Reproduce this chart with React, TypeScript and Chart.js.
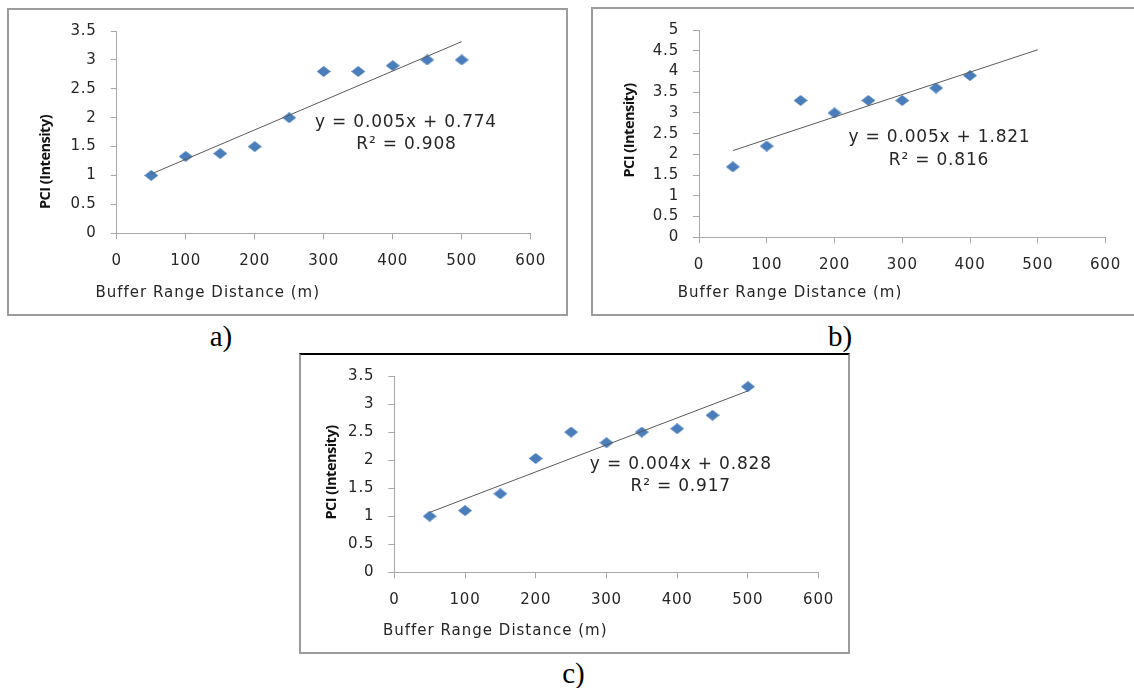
import React, { useEffect, useRef } from "react";
import { Chart, registerables } from "chart.js";

Chart.register(...registerables);

// ---- data ----
const distancesA = [50, 100, 150, 200, 250, 300, 350, 400, 450, 500];
const pciA = [1.0, 1.33, 1.38, 1.5, 2.0, 2.8, 2.8, 2.9, 3.0, 3.0];

const distancesB = [50, 100, 150, 200, 250, 300, 350, 400];
const pciB = [1.7, 2.2, 3.3, 3.0, 3.3, 3.3, 3.6, 3.9];

const distancesC = [50, 100, 150, 200, 250, 300, 350, 400, 450, 500];
const pciC = [1.0, 1.1, 1.4, 2.03, 2.5, 2.31, 2.5, 2.56, 2.8, 3.31];

const xTicks = [0, 100, 200, 300, 400, 500, 600];
const yTicksA = [0, 0.5, 1, 1.5, 2, 2.5, 3, 3.5];
const yTicksB = [0, 0.5, 1, 1.5, 2, 2.5, 3, 3.5, 4, 4.5, 5];
const yTicksC = [0, 0.5, 1, 1.5, 2, 2.5, 3, 3.5];

// trendline spans (x from, x to); panel b is forecast forward to 500
const trendRangeA = [50, 500];
const trendRangeB = [50, 500];
const trendRangeC = [50, 500];

const equationA = ["y = 0.005x + 0.774", "R\u00B2 = 0.908"];
const equationB = ["y = 0.005x + 1.821", "R\u00B2 = 0.816"];
const equationC = ["y = 0.004x + 0.828", "R\u00B2 = 0.917"];

const panelLabels = ["a)", "b)", "c)"];
const xTitle = "Buffer Range Distance (m)";
const yTitle = "PCI (Intensity)";

// ---- styling ----
const MARKER_COLOR = "#4A7EBB";
const TREND_COLOR = "#5a5a5a";
const AXIS_COLOR = "#a8a8a8";
const TEXT_COLOR = "#262626";
const SANS = "'DejaVu Sans', sans-serif";
const Y_SCALE_W = 60;
const X_SCALE_H = 40;

type Box = { left: number; top: number; width: number; height: number };
type Area = { left: number; top: number; right: number; bottom: number };
type PanelSpec = {
  box: Box;
  area: Area;
  xs: number[];
  ys: number[];
  yTicks: number[];
  trendRange: number[];
  equation: string[];
  eqPos: number[][];
  xTitlePos: number[];
  yTitlePos: number[];
  topRule?: boolean;
};

function leastSquares(xs: number[], ys: number[]) {
  const n = xs.length;
  const mx = xs.reduce((s, v) => s + v, 0) / n;
  const my = ys.reduce((s, v) => s + v, 0) / n;
  let sxy = 0;
  let sxx = 0;
  for (let i = 0; i < n; i++) {
    sxy += (xs[i] - mx) * (ys[i] - my);
    sxx += (xs[i] - mx) * (xs[i] - mx);
  }
  const slope = sxy / sxx;
  return { slope, intercept: my - slope * mx };
}

function makeDiamond(w: number, h: number, color: string) {
  const c = document.createElement("canvas");
  c.width = w;
  c.height = h;
  const g = c.getContext("2d")!;
  g.fillStyle = color;
  g.beginPath();
  g.moveTo(w / 2, 0);
  g.lineTo(w, h / 2);
  g.lineTo(w / 2, h);
  g.lineTo(0, h / 2);
  g.closePath();
  g.fill();
  return c;
}

const panels: PanelSpec[] = [
  {
    box: { left: 7, top: 8, width: 561, height: 308 },
    area: { left: 116.7, top: 26.7, right: 530.7, bottom: 233.3 },
    xs: distancesA,
    ys: pciA,
    yTicks: yTicksA,
    trendRange: trendRangeA,
    equation: equationA,
    eqPos: [
      [406, 122.7],
      [406.5, 144.3],
    ],
    xTitlePos: [95.5, 292.7],
    yTitlePos: [46, 162],
  },
  {
    box: { left: 591, top: 7, width: 546, height: 309 },
    area: { left: 699, top: 24, right: 1105.5, bottom: 237.3 },
    xs: distancesB,
    ys: pciB,
    yTicks: yTicksB,
    trendRange: trendRangeB,
    equation: equationB,
    eqPos: [
      [939.5, 138],
      [939, 160.7],
    ],
    xTitlePos: [677.8, 292.7],
    yTitlePos: [629.5, 130.5],
  },
  {
    box: { left: 299, top: 353, width: 551, height: 301 },
    area: { left: 394.3, top: 371.7, right: 818.6, bottom: 572.3 },
    xs: distancesC,
    ys: pciC,
    yTicks: yTicksC,
    trendRange: trendRangeC,
    equation: equationC,
    eqPos: [
      [680.8, 465],
      [680.7, 486.7],
    ],
    xTitlePos: [383, 631],
    yTitlePos: [332, 472.5],
    topRule: true,
  },
];

function Panel({ spec }: { spec: PanelSpec }) {
  const ref = useRef<HTMLCanvasElement | null>(null);

  useEffect(() => {
    if (!ref.current) return;
    const { box, area } = spec;
    const fit = leastSquares(spec.xs, spec.ys);
    const trend = spec.trendRange.map((x) => ({ x, y: fit.intercept + fit.slope * x }));
    const points = spec.xs.map((x, i) => ({ x, y: spec.ys[i] }));
    const marker = makeDiamond(14, 11, MARKER_COLOR);

    const padLeft = area.left - box.left - Y_SCALE_W;
    const padTop = area.top - box.top;
    const padRight = box.width - (area.right - box.left);
    const padBottom = box.height - (area.bottom - box.top) - X_SCALE_H;

    const textPlugin = {
      id: "panelText",
      beforeDraw(chart: any) {
        chart.ctx.letterSpacing = "0.8px";
      },
      afterDraw(chart: any) {
        const ctx = chart.ctx as CanvasRenderingContext2D;
        const ox = box.left;
        const oy = box.top;
        ctx.save();
        ctx.fillStyle = TEXT_COLOR;

        // x axis title
        (ctx as any).letterSpacing = "1px";
        ctx.font = `15px ${SANS}`;
        ctx.textAlign = "left";
        ctx.textBaseline = "middle";
        ctx.fillText(xTitle, spec.xTitlePos[0] - ox, spec.xTitlePos[1] - oy);

        // trendline equation
        (ctx as any).letterSpacing = "0.8px";
        ctx.font = `17px ${SANS}`;
        ctx.textAlign = "center";
        spec.equation.forEach((line, i) => {
          ctx.fillText(line, spec.eqPos[i][0] - ox, spec.eqPos[i][1] - oy);
        });

        // y axis title
        (ctx as any).letterSpacing = "-0.5px";
        ctx.font = `bold 14.5px 'Open Sans', sans-serif`;
        ctx.fillStyle = "#111";
        ctx.translate(spec.yTitlePos[0] - ox, spec.yTitlePos[1] - oy);
        ctx.rotate(-Math.PI / 2);
        ctx.textAlign = "center";
        ctx.textBaseline = "middle";
        ctx.fillText(yTitle, 0, 0);
        ctx.restore();
      },
    };

    const tickFont = { family: SANS, size: 15 };

    const chart = new Chart(ref.current, {
      type: "scatter",
      data: {
        datasets: [
          {
            label: "Linear (PCI)",
            data: trend,
            showLine: true,
            borderColor: TREND_COLOR,
            borderWidth: 1,
            pointRadius: 0,
            fill: false,
            order: 0,
          } as any,
          {
            label: "PCI",
            data: points,
            pointStyle: marker as any,
            pointRadius: 6,
            backgroundColor: MARKER_COLOR,
            borderColor: MARKER_COLOR,
            order: 1,
          },
        ],
      },
      options: {
        responsive: false,
        animation: false,
        devicePixelRatio: 1,
        layout: {
          padding: { left: padLeft, top: padTop, right: padRight, bottom: padBottom },
        },
        plugins: {
          legend: { display: false },
          tooltip: { enabled: false },
          title: { display: false },
        },
        scales: {
          x: {
            type: "linear",
            min: xTicks[0],
            max: xTicks[xTicks.length - 1],
            afterBuildTicks: (s: any) => {
              s.ticks = xTicks.map((v) => ({ value: v }));
            },
            afterFit: (s: any) => {
              s.height = X_SCALE_H;
            },
            grid: {
              display: true,
              drawOnChartArea: false,
              drawTicks: true,
              tickLength: 6,
              color: AXIS_COLOR,
            },
            border: { display: true, color: AXIS_COLOR, width: 1 },
            ticks: {
              color: TEXT_COLOR,
              font: tickFont,
              padding: 12.5,
              maxRotation: 0,
              autoSkip: false,
              callback: (v: any) => String(v),
            },
          },
          y: {
            type: "linear",
            min: spec.yTicks[0],
            max: spec.yTicks[spec.yTicks.length - 1],
            afterBuildTicks: (s: any) => {
              s.ticks = spec.yTicks.map((v) => ({ value: v }));
            },
            afterFit: (s: any) => {
              s.width = Y_SCALE_W;
            },
            grid: {
              display: true,
              drawOnChartArea: false,
              drawTicks: true,
              tickLength: 6,
              color: AXIS_COLOR,
            },
            border: { display: true, color: AXIS_COLOR, width: 1 },
            ticks: {
              color: TEXT_COLOR,
              font: tickFont,
              padding: 14,
              autoSkip: false,
              callback: (v: any) => String(v),
            },
          },
        },
      },
      plugins: [textPlugin],
    });

    return () => chart.destroy();
  }, [spec]);

  const { box } = spec;
  return (
    <>
      <canvas
        ref={ref}
        width={box.width}
        height={box.height}
        style={{
          position: "absolute",
          left: box.left,
          top: box.top,
          width: box.width,
          height: box.height,
        }}
      />
      <div
        style={{
          position: "absolute",
          left: box.left,
          top: box.top,
          width: box.width,
          height: box.height,
          boxSizing: "border-box",
          border: "2px solid #9c9c9c",
          borderTop: spec.topRule ? "2px solid #000" : "2px solid #9c9c9c",
          pointerEvents: "none",
        }}
      />
    </>
  );
}

const labelPos = [
  [221, 345],
  [840, 345],
  [573.5, 682],
];

export default function App() {
  return (
    <div
      style={{
        position: "absolute",
        left: 0,
        top: 0,
        width: 1134,
        height: 688,
        overflow: "hidden",
        background: "#fff",
      }}
    >
      {panels.map((p, i) => (
        <Panel key={i} spec={p} />
      ))}
      {panelLabels.map((t, i) => (
        <div
          key={t}
          style={{
            position: "absolute",
            left: labelPos[i][0] - 40,
            top: labelPos[i][1] - 24,
            width: 80,
            height: 30,
            lineHeight: "30px",
            textAlign: "center",
            fontFamily: "'Liberation Serif', 'Times New Roman', serif",
            fontSize: 29,
            color: "#000",
          }}
        >
          {t}
        </div>
      ))}
    </div>
  );
}
